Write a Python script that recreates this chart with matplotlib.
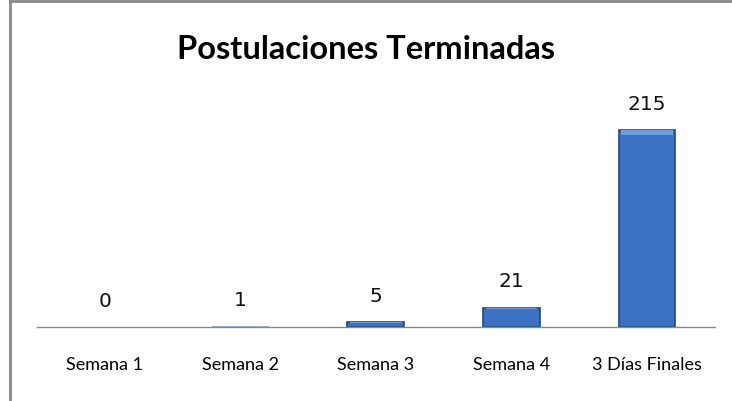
import matplotlib.pyplot as plt
from matplotlib.lines import Line2D

categories = ['Semana 1', 'Semana 2', 'Semana 3', 'Semana 4', '3 Días Finales']
values = [0, 1, 5, 21, 215]

plt.rcParams['font.family'] = ['Lato', 'DejaVu Sans']

fig = plt.figure(figsize=(7.32, 4.02), dpi=100)
ax = fig.add_axes([0.0505, 0.184, 0.926, 0.570])

x = list(range(len(categories)))
for i, v in zip(x, values):
    if v <= 0:
        continue
    lw = 1.2 if v > 3 else 0
    face = '#3b71c0' if v > 3 else '#8fb2de'
    ax.bar(i, v, width=0.42, color=face, edgecolor='#1f4a82', linewidth=lw)
    # lighter bevel strip along the top of the bar
    if v > 3:
        h = min(v * 0.08, 5)
        ax.bar(i, h, bottom=v - h, width=0.38, color='#6c9be0', linewidth=0)

for i, v in enumerate(values):
    ax.text(i, v + 19, str(v), ha='center', va='bottom', fontsize=14.5,
            family=['DejaVu Sans'], color='#111111')

ax.set_xlim(-0.5, len(categories) - 0.5)
ax.set_ylim(0, 250)
ax.set_xticks(x)
ax.set_xticklabels(categories, fontsize=13)
ax.tick_params(axis='x', length=0, pad=21)
ax.set_yticks([])
for s in ['top', 'right', 'left']:
    ax.spines[s].set_visible(False)
ax.spines['bottom'].set_color('#888888')
ax.spines['bottom'].set_linewidth(1)

fig.text(0.5, 0.878, 'Postulaciones Terminadas', ha='center', va='center',
         fontsize=23.5, fontweight='bold')

# outer chart border
fig.add_artist(Line2D([0.0137, 0.0137], [0, 0.995], color='#888888', lw=2))
fig.add_artist(Line2D([0.0137, 1.0], [0.995, 0.995], color='#888888', lw=2))

fig.savefig('out.png', dpi=100)
